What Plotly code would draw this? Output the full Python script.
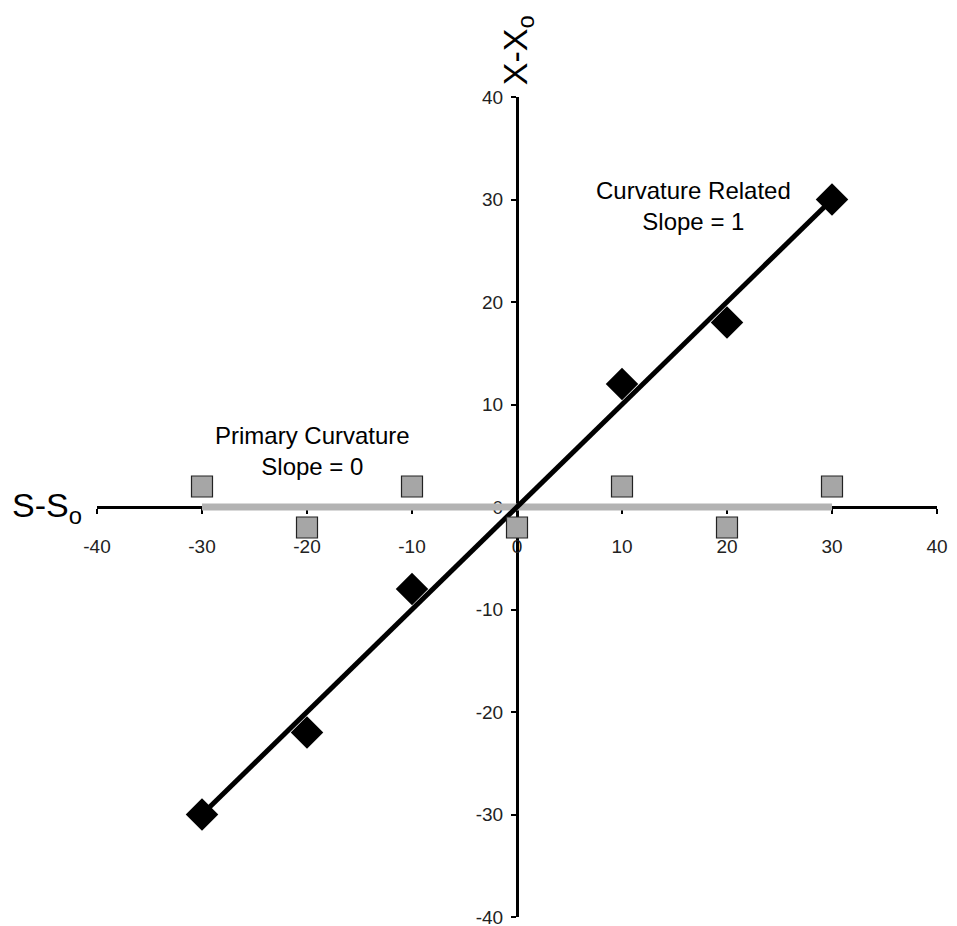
import plotly.graph_objects as go

# Curvature-related series (black diamonds)
rel_x = [-30, -20, -10, 10, 20, 30]
rel_y = [-30, -22, -8, 12, 18, 30]
# Trend line for curvature related (slope = 1)
rel_fit_x = [-30, 30]
rel_fit_y = [-30, 30]

# Primary curvature series (grey squares)
prim_x = [-30, -20, -10, 0, 10, 20, 30]
prim_y = [2, -2, 2, -2, 2, -2, 2]
# Trend line for primary curvature (slope = 0)
prim_fit_x = [-30, 30]
prim_fit_y = [0, 0]

tick_vals = [-40, -30, -20, -10, 0, 10, 20, 30, 40]
tick_text = [str(v) for v in tick_vals]

font_family = "Liberation Sans, Arial, sans-serif"

fig = go.Figure()
fig.add_trace(go.Scatter(x=prim_fit_x, y=prim_fit_y, mode="lines",
                         line=dict(color="#b3b3b3", width=7), showlegend=False))
fig.add_trace(go.Scatter(x=rel_fit_x, y=rel_fit_y, mode="lines",
                         line=dict(color="black", width=5), showlegend=False))
fig.add_trace(go.Scatter(x=rel_x, y=rel_y, mode="markers",
                         marker=dict(symbol="diamond", size=25, color="black"),
                         showlegend=False, cliponaxis=False))
fig.add_trace(go.Scatter(x=prim_x, y=prim_y, mode="markers",
                         marker=dict(symbol="square", size=21, color="#a6a6a6",
                                     line=dict(color="#222222", width=1.2)),
                         showlegend=False, cliponaxis=False))

fig.update_layout(
    width=957, height=926,
    margin=dict(l=89, r=28, t=89, b=17, autoexpand=False),
    plot_bgcolor="white", paper_bgcolor="white",
    font=dict(family=font_family, color="black"),
    xaxis=dict(range=[-40, 40], anchor="free", position=0.5,
               showgrid=False, zeroline=False, layer="below traces",
               showline=True, linecolor="black", linewidth=3,
               ticks="outside", ticklen=5, tickwidth=2, tickcolor="black",
               tickvals=tick_vals, ticktext=tick_text,
               tickfont=dict(size=19, color="#222222"),
               ticklabelstandoff=16, automargin=False),
    yaxis=dict(range=[-40, 40], anchor="free", position=0.5,
               showgrid=False, zeroline=False, layer="below traces",
               showline=True, linecolor="black", linewidth=3,
               ticks="outside", ticklen=5, tickwidth=2, tickcolor="black",
               tickvals=tick_vals, ticktext=tick_text,
               tickfont=dict(size=19, color="#222222"),
               ticklabelstandoff=4, automargin=False),
    annotations=[
        dict(x=-19.5, y=5.5, xref="x", yref="y",
             text="Primary Curvature<br>Slope = 0", showarrow=False,
             font=dict(size=24, family=font_family)),
        dict(x=16.8, y=29.4, xref="x", yref="y",
             text="Curvature Related<br>Slope = 1", showarrow=False,
             font=dict(size=24, family=font_family)),
        dict(x=-0.016, y=0.5, xref="paper", yref="paper", xanchor="right",
             yanchor="middle", text="S-S<sub>o</sub>", showarrow=False,
             font=dict(size=34, family=font_family)),
        dict(x=0.5, y=1.057, xref="paper", yref="paper", xanchor="center",
             yanchor="middle", text="X-X<sub>o</sub>", textangle=-90,
             showarrow=False, font=dict(size=34, family=font_family)),
    ],
)

fig.write_html("out.html")
